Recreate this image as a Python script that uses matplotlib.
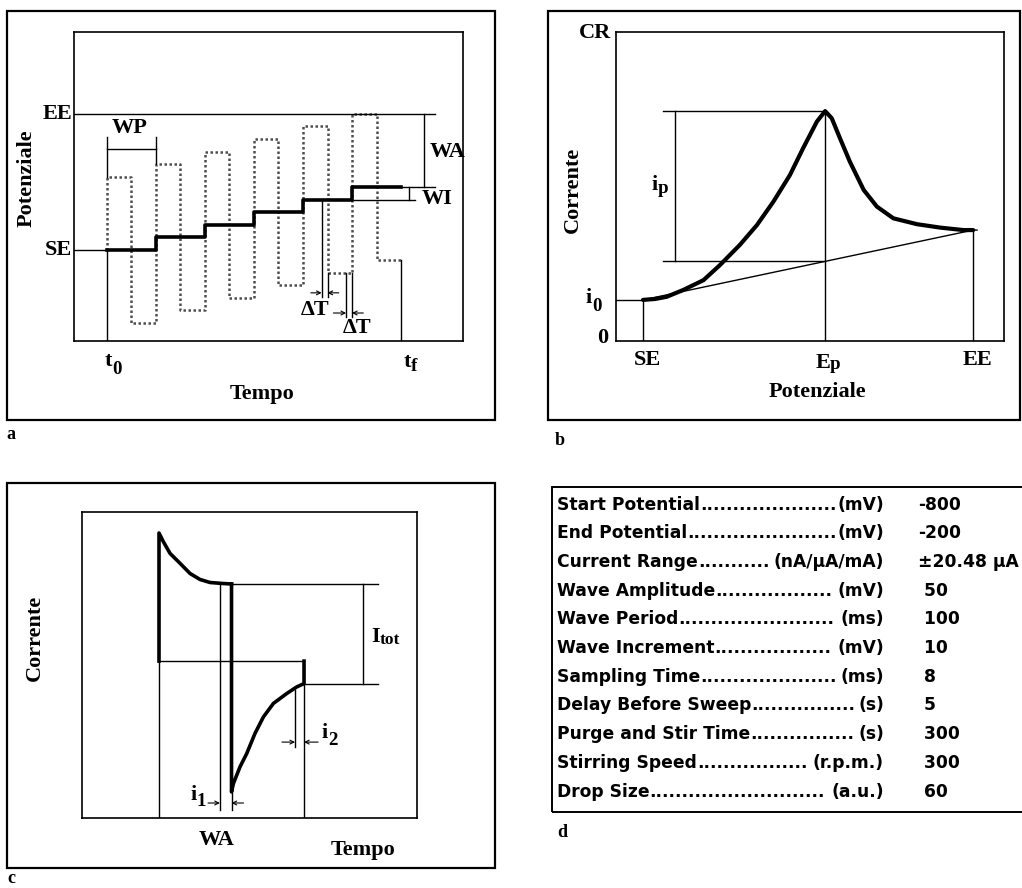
import matplotlib
matplotlib.use("Agg")
import matplotlib.pyplot as plt
from matplotlib.patches import Rectangle

W, H = 1022, 888

# (a) square-wave potential on a staircase; time in wave periods, potential in mV above SE
step_levels = [0, 10, 20, 30, 40, 50]
wave_amplitude = 58
sample_width = 0.12

# (b) square-wave voltammogram; potential in mV, current in % of range
pot_b = [-800, -778, -757, -727, -690, -660, -624, -593, -563, -533, -509, -484, -469,
         -457, -442, -424, -399, -375, -345, -302, -260, -218, -200]
cur_b = [13.3, 13.6, 14.3, 16.5, 19.7, 24.6, 31.1, 37.5, 45.1, 53.7, 62.4, 71.0, 74.4,
         72.1, 65.6, 58.0, 48.9, 43.5, 39.7, 37.8, 36.7, 35.9, 35.9]
start_pot, peak_pot, end_pot = -800, -469, -200

# (c) current over one wave period; time in ms, current in arbitrary units
fwd_t = [0, 0, 3, 7.6, 14.5, 21.4, 28.3, 35.2, 43.2, 50]
fwd_i = [0, 42.7, 39.8, 35.9, 32.6, 29.2, 27.2, 26.2, 25.9, 25.7]
rev_t = [50, 50, 51.3, 55.9, 60.5, 66.2, 72, 78.9, 88.1, 95, 100, 100]
rev_i = [25.7, -43.6, -40.8, -35.2, -30.8, -24.1, -18.6, -14.1, -10.8, -8.6, -7.5, 0]
sampling_ms = 8

# (d) instrument settings
param_names = ["Start Potential", "End Potential", "Current Range", "Wave Amplitude",
               "Wave Period", "Wave Increment", "Sampling Time", "Delay Before Sweep",
               "Purge and Stir Time", "Stirring Speed", "Drop Size"]
param_units = ["(mV)", "(mV)", "(nA/µA/mA)", "(mV)", "(ms)", "(mV)", "(ms)", "(s)",
               "(s)", "(r.p.m.)", "(a.u.)"]
param_values = ["-800", "-200", "±20.48 µA", " 50", " 100", " 10", " 8", " 5",
                " 300", " 300", " 60"]

SIZE = 16
SERIF = dict(family="Liberation Serif", weight="bold", size=SIZE, color="k")
TAG = dict(family="Liberation Serif", weight="bold", size=13, color="k")
THIN = dict(color="k", lw=1.0)

fig = plt.figure(figsize=(W / 100, H / 100), dpi=100)


def fx(x):
    return x / W


def fy(y):
    return 1 - y / H


def frame(x0, y0, x1, y1, lw=1.6):
    fig.add_artist(Rectangle((fx(x0), fy(y1)), (x1 - x0) / W, (y1 - y0) / H,
                             transform=fig.transFigure, fill=False, lw=lw, ec="k"))


def box_axes(x0, y0, x1, y1, xlim, ylim):
    ax = fig.add_axes([fx(x0), fy(y1), (x1 - x0) / W, (y1 - y0) / H])
    ax.set_xlim(*xlim)
    ax.set_ylim(*ylim)
    ax.set_xticks([])
    ax.set_yticks([])
    for s in ax.spines.values():
        s.set_linewidth(1.2)
    return ax


def ftext(x, y, s, rot=0, **kw):
    opts = dict(SERIF)
    opts.update(kw)
    fig.text(fx(x), fy(y), s, rotation=rot, ha="center", va="center", **opts)


def sub_label(x, base, main, sub, sub_base, sub_scale=0.85):
    # main symbol ends at x, subscript starts there on a lower baseline
    fig.text(fx(x), fy(base), main, ha="right", va="baseline", **SERIF)
    opts = dict(SERIF)
    opts["size"] = SIZE * sub_scale
    fig.text(fx(x), fy(sub_base), sub, ha="left", va="baseline", **opts)


def arrow(ax, x_from, x_to, y):
    ax.annotate("", xy=(x_to, y), xytext=(x_from, y), annotation_clip=False,
                arrowprops=dict(arrowstyle="->", lw=0.8, color="k",
                                shrinkA=0, shrinkB=0, mutation_scale=7))


# ---------------- panel a ----------------
frame(7, 11, 495, 420)
ax = box_axes(74, 32, 463, 341, (-0.673, 7.265), (-72.2, 172.9))
A = wave_amplitude
n = len(step_levels)
ee_level = step_levels[-1] + A
x_left = ax.get_xlim()[0]
y_bot = ax.get_ylim()[0]

wave_t, wave_v = [0], [step_levels[0]]
for k, lev in enumerate(step_levels):
    wave_t += [k, k + 0.5, k + 0.5, k + 1]
    wave_v += [lev + A, lev + A, lev - A, lev - A]
ax.plot(wave_t, wave_v, color="0.3", lw=1.8, ls=(0, (1, 1)))
ax.plot(list(range(n + 1)), step_levels + [step_levels[-1]], drawstyle="steps-post",
        color="k", lw=2.6)

ax.plot([x_left, 0], [0, 0], **THIN)
ax.plot([x_left, 6.69], [ee_level, ee_level], **THIN)
ax.plot([0, 0], [y_bot, 0], **THIN)
ax.plot([0, 0], [A, 89.6], **THIN)
ax.plot([n, n], [y_bot, step_levels[-1] - A], **THIN)

# WP bracket
ax.plot([0, 1], [80, 80], **THIN)
ax.plot([1, 1], [step_levels[1] + A, 89.6], **THIN)
ax.text(0.47, 89, "WP", ha="center", va="bottom", **SERIF)

# WA / WI brackets
ax.plot([n, 6.69], [step_levels[-1]] * 2, **THIN)
ax.plot([n - 1, 6.29], [step_levels[-2]] * 2, **THIN)
ax.plot([6.47, 6.47], [step_levels[-1], ee_level], **THIN)
ax.plot([6.16, 6.16], [step_levels[-2], step_levels[-1]], **THIN)
ax.text(6.58, 77.7, "WA", ha="left", va="center", clip_on=False, **SERIF)
ax.text(6.43, 40.4, "WI", ha="left", va="center", clip_on=False, **SERIF)

# sampling windows at the end of each half period
lev = step_levels[4]
t1 = 4.5
ax.plot([t1 - sample_width] * 2, [lev, -37], **THIN)
ax.plot([t1, t1], [lev - A, -37], **THIN)
arrow(ax, t1 - sample_width - 0.22, t1 - sample_width, -34)
arrow(ax, t1 + 0.23, t1, -34)
ax.text(4.24, -47.6, "ΔT", ha="center", va="center", **SERIF)
t2 = 5.0
ax.plot([t2 - sample_width] * 2, [lev - A, -53], **THIN)
ax.plot([t2, t2], [lev - A, -53], **THIN)
arrow(ax, t2 - sample_width - 0.26, t2 - sample_width, -50)
arrow(ax, t2 + 0.23, t2, -50)
ax.text(5.1, -62, "ΔT", ha="center", va="center", clip_on=False, **SERIF)

ax.text(x_left - 0.03, ee_level, "EE", ha="right", va="center", clip_on=False, **SERIF)
ax.text(x_left - 0.03, 0, "SE", ha="right", va="center", clip_on=False, **SERIF)
sub_label(112, 366, "t", "0", 374)
sub_label(411, 367, "t", "f", 371)
ftext(262, 394, "Tempo")
ftext(27, 178, "Potenziale", rot=90)
ftext(11, 434, "a", **TAG)

# ---------------- panel b ----------------
frame(548, 11, 1020, 420)
ax = box_axes(616, 32, 1004, 341, (-849, -144), (0, 100))
x_left = ax.get_xlim()[0]
i0 = cur_b[0]
i_end = cur_b[-1]
i_peak = max(cur_b)
i_base = i0 + (i_end - i0) * (peak_pot - start_pot) / (end_pot - start_pot)

ax.plot([x_left, start_pot], [i0, i0], **THIN)
ax.plot([start_pot, start_pot], [0, i0], **THIN)
ax.plot([peak_pot, peak_pot], [0, i_peak], **THIN)
ax.plot([end_pot, end_pot], [0, i_end], **THIN)
ax.plot([start_pot, end_pot, end_pot + 7], [i0, i_end, i_end], **THIN)
ax.plot([-764, peak_pot], [i_peak, i_peak], **THIN)
ax.plot([-764, peak_pot], [i_base, i_base], **THIN)
ax.plot([-742, -742], [i_base, i_peak], **THIN)
ax.plot(pot_b, cur_b, color="k", lw=3.0, solid_capstyle="round", solid_joinstyle="round")

sub_label(658, 190, "i", "p", 193)
ftext(595, 33, "CR")
ftext(603, 338, "0")
sub_label(592, 303, "i", "0", 311)
ftext(647, 360, "SE")
sub_label(830, 368, "E", "p", 369)
ftext(977, 360, "EE")
ftext(817, 392, "Potenziale")
ftext(573, 190, "Corrente", rot=90)
ftext(560, 440, "b", **TAG)

# ---------------- panel c ----------------
frame(7, 483, 495, 868)
ax = box_axes(82, 512, 417, 818, (-53.1, 177.9), (-52.3, 49.7))
y_bot = ax.get_ylim()[0]
half = fwd_t[-1]
period = rev_t[-1]
i_fwd = fwd_i[-1]
i_rev = rev_i[-2]

ax.plot([0, period], [0, 0], **THIN)
ax.plot([0, 0], [y_bot, 0], **THIN)
ax.plot([period, period], [y_bot, i_rev], **THIN)
ax.plot([half - sampling_ms] * 2, [i_fwd, -49.7], **THIN)
ax.plot([half, half], [rev_i[1], -49.7], **THIN)
ax.plot([period - sampling_ms + 1.8] * 2, [-9.5, -28.7], **THIN)
ax.plot([half, 151], [i_fwd, i_fwd], **THIN)
ax.plot([period, 151], [i_rev, i_rev], **THIN)
ax.plot([140.7, 140.7], [i_rev, i_fwd], **THIN)
ax.plot(fwd_t, fwd_i, color="k", lw=2.6, solid_joinstyle="round")
ax.plot(rev_t, rev_i, color="k", lw=2.6, solid_joinstyle="round")

arrow(ax, 33.8, half - sampling_ms, -47.3)
arrow(ax, 58.3, half, -47.3)
arrow(ax, 84.8, period - sampling_ms + 1.8, -27)
arrow(ax, 109.7, period, -27)
sub_label(197, 800, "i", "1", 806)
sub_label(328, 738, "i", "2", 745)
sub_label(380, 642, "I", "tot", 644, sub_scale=0.78)

ftext(217, 840, "WA")
ftext(363, 850, "Tempo")
ftext(35, 638, "Corrente", rot=90)
ftext(11, 878, "c", **TAG)

# ---------------- panel d ----------------
frame(552, 487, 1030, 812, lw=1.4)
TABLE = dict(family="DejaVu Sans", weight="bold", size=12.3, color="k")
renderer = fig.canvas.get_renderer()
probe = fig.text(0, 0, "." * 20, **TABLE)
dot_w = probe.get_window_extent(renderer).width / 20
probe.remove()

row0, row_step = 503, 28.7
for k, (name, unit, val) in enumerate(zip(param_names, param_units, param_values)):
    yb = fy(row0 + k * row_step + 6.5)
    t_name = fig.text(fx(557), yb, name, ha="left", va="baseline", **TABLE)
    t_unit = fig.text(fx(884), yb, unit, ha="right", va="baseline", **TABLE)
    x_a = t_name.get_window_extent(renderer).x1
    x_b = t_unit.get_window_extent(renderer).x0
    n_dots = int((x_b - x_a) / dot_w)
    fig.text(x_a / W, yb, "." * n_dots, ha="left", va="baseline", **TABLE)
    fig.text(fx(918), yb, val, ha="left", va="baseline", **TABLE)

ftext(562, 832, "d", **TAG)

fig.savefig("out.png", dpi=100)
